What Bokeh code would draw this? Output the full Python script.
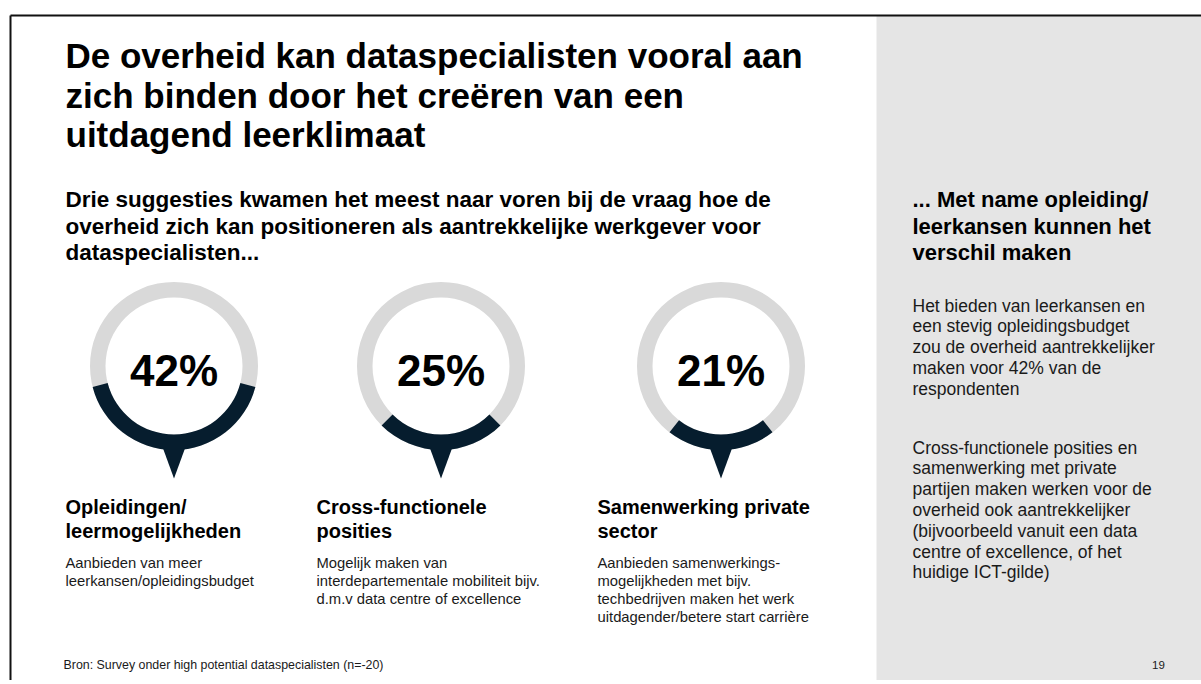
import math
from bokeh.plotting import figure
from bokeh.models import Range1d, ColumnDataSource
from bokeh.core.properties import value
from bokeh.embed import file_html
from bokeh.resources import INLINE

# ---------------- data ----------------
title_lines = [
    "De overheid kan dataspecialisten vooral aan",
    "zich binden door het creëren van een",
    "uitdagend leerklimaat",
]
subtitle_lines = [
    "Drie suggesties kwamen het meest naar voren bij de vraag hoe de",
    "overheid zich kan positioneren als aantrekkelijke werkgever voor",
    "dataspecialisten...",
]
percentages = [42, 25, 21]
category_titles = [
    ["Opleidingen/", "leermogelijkheden"],
    ["Cross-functionele", "posities"],
    ["Samenwerking private", "sector"],
]
category_descriptions = [
    ["Aanbieden van meer", "leerkansen/opleidingsbudget"],
    ["Mogelijk maken van", "interdepartementale mobiliteit bijv.", "d.m.v data centre of excellence"],
    ["Aanbieden samenwerkings-", "mogelijkheden met bijv.", "techbedrijven maken het werk",
     "uitdagender/betere start carrière"],
]
panel_heading = ["... Met name opleiding/", "leerkansen kunnen het", "verschil maken"]
panel_par1 = ["Het bieden van leerkansen en", "een stevig opleidingsbudget",
              "zou de overheid aantrekkelijker", "maken voor 42% van de", "respondenten"]
panel_par2 = ["Cross-functionele posities en", "samenwerking met private",
              "partijen maken werken voor de", "overheid ook aantrekkelijker",
              "(bijvoorbeeld vanuit een data", "centre of excellence, of het",
              "huidige ICT-gilde)"]
footer_text = "Bron: Survey onder high potential dataspecialisten (n=-20)"
page_number = "19"

# ---------------- layout ----------------
W, H = 1201, 680
def sy(y):  # screen y -> data y
    return H - y

FONT = value("Liberation Sans")
NAVY = "#061D2E"
RING = "#D9D9D9"
PANEL = "#E5E5E5"

p = figure(width=W, height=H, x_range=Range1d(0, W), y_range=Range1d(0, H),
           output_backend="svg", toolbar_location=None, min_border=0,
           x_axis_location=None, y_axis_location=None)
p.grid.visible = False
p.outline_line_color = None
p.background_fill_color = "white"
p.border_fill_color = "white"

# right grey panel
p.quad(left=[876], right=[W + 5], top=[sy(15)], bottom=[sy(H + 5)], fill_color=PANEL, line_color=None)
# slide border lines (top and left)
p.segment(x0=[10, 10], y0=[sy(15), sy(15)], x1=[W + 5, 10], y1=[sy(15), sy(H + 5)],
          line_color="#111111", line_width=2)

def text_block(lines, x, y0, step, size, bold=False, color="#000000", align="left"):
    src = ColumnDataSource(dict(x=[x] * len(lines),
                                y=[sy(y0 + i * step) for i in range(len(lines))],
                                t=lines))
    p.text(x="x", y="y", text="t", source=src, text_font=FONT,
           text_font_size=value(f"{size}px"), text_font_style="bold" if bold else "normal",
           text_color=color, text_baseline="alphabetic", text_align=align)

text_block(title_lines, 65, 55, 39.5, 35, bold=True)
text_block(subtitle_lines, 65, 199, 26.5, 22.5, bold=True)

# donuts
cxs = [173.5, 440.5, 720.5]
cy = 365.5
r_out, r_in = 84, 68.5
src = ColumnDataSource(dict(
    x=cxs, y=[sy(cy)] * 3, ty=[sy(370)] * 3,
    start=[-math.pi / 2 - v / 100 * math.pi for v in percentages],
    end=[-math.pi / 2 + v / 100 * math.pi for v in percentages],
    label=[f"{v}%" for v in percentages],
))
p.annulus(x="x", y="y", inner_radius=r_in, outer_radius=r_out, source=src,
          fill_color=RING, line_color=None)
p.annular_wedge(x="x", y="y", inner_radius=r_in, outer_radius=r_out, start_angle="start",
                end_angle="end", direction="anticlock", source=src, fill_color=NAVY, line_color=None)
p.patches(xs=[[cx - 11.5, cx + 11.5, cx] for cx in cxs],
          ys=[[sy(cy + r_out - 3), sy(cy + r_out - 3), sy(478)] for _ in cxs],
          fill_color=NAVY, line_color=None)
p.text(x="x", y="ty", text="label", source=src, text_font=FONT,
       text_font_size=value("44px"), text_font_style="bold", text_color="#000000",
       text_align="center", text_baseline="alphabetic")

label_x = [65, 316, 597]
for lx, tl, dl in zip(label_x, category_titles, category_descriptions):
    text_block(tl, lx, 506, 24, 20, bold=True)
    text_block(dl, lx, 562, 18, 14.8, color="#1A1A1A")

# right panel texts
text_block(panel_heading, 912, 199, 26.5, 22, bold=True)
text_block(panel_par1, 912, 305, 20.8, 17.5, color="#1A1A1A")
text_block(panel_par2, 912, 447, 20.8, 17.5, color="#1A1A1A")

# footer
text_block([footer_text], 63, 664, 0, 12.4, color="#1A1A1A")
text_block([page_number], 1158, 664, 0, 11.5, color="#1A1A1A", align="center")

open("out.html", "w").write(file_html(p, INLINE))
